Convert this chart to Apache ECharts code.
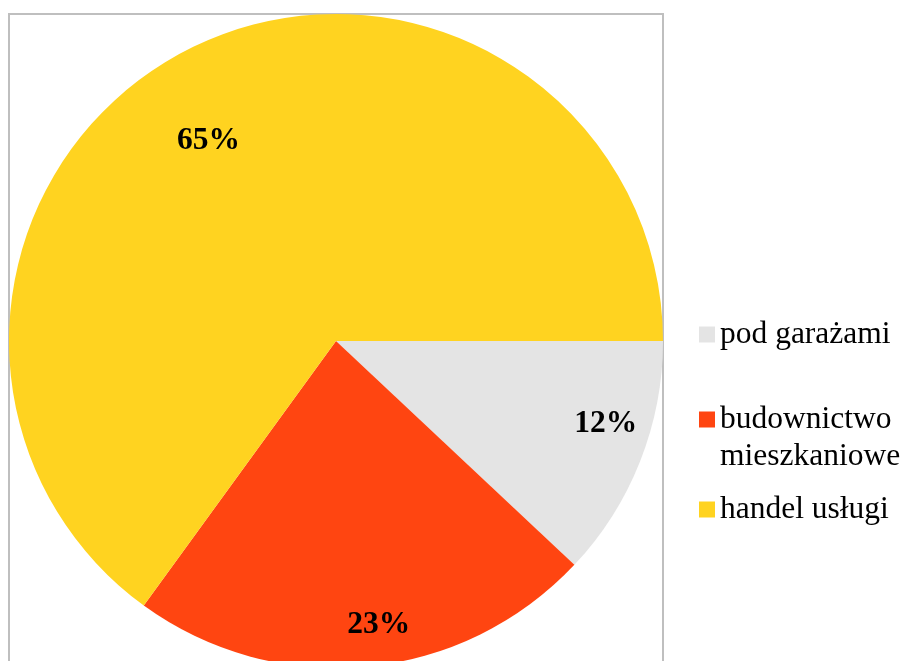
<!DOCTYPE html>
<html>
<head>
<meta charset="utf-8">
<script src="https://cdn.jsdelivr.net/npm/echarts@6/dist/echarts.min.js"></script>
<style>html,body{margin:0;padding:0;background:#fff;}#c{width:908px;height:661px;}</style>
</head>
<body>
<div id="c"></div>
<script>
var categories = ['pod garażami', 'budownictwo\nmieszkaniowe', 'handel usługi'];
var values = [12, 23, 65];
var colors = ['#E4E4E4', '#FF4511', '#FFD320'];
var labelShift = [[115, 22], [27, 118], [-52, -52]];
var legendTops = [316, 364, 491];

var chart = echarts.init(document.getElementById('c'));
var data = categories.map(function (c, i) {
  return { name: c, value: values[i], itemStyle: { color: colors[i] } };
});
var legends = categories.map(function (c, i) {
  return {
    data: [c],
    orient: 'vertical',
    left: 699,
    top: legendTops[i],
    padding: 0,
    icon: 'rect',
    itemWidth: 16,
    itemHeight: 16,
    itemGap: 6,
    selectedMode: false,
    formatter: i === 1 ? function (n) { return '\n' + n; } : '{name}',
    textStyle: { fontFamily: 'Liberation Serif', fontSize: 31.5, color: '#000', lineHeight: 37 }
  };
});
chart.setOption({
  animation: false,
  backgroundColor: '#fff',
  legend: legends,
  graphic: [{
    type: 'polyline',
    shape: { points: [[9, 661], [9, 14], [663, 14], [663, 661]] },
    style: { stroke: '#BFBFBF', lineWidth: 2, fill: null },
    z: 0
  }],
  series: [{
    type: 'pie',
    center: [336, 341],
    radius: 327,
    startAngle: 0,
    clockwise: true,
    z: 2,
    data: data,
    label: {
      show: true,
      position: 'inside',
      formatter: '{d}%',
      fontFamily: 'Liberation Serif',
      fontWeight: 'bold',
      fontSize: 31.5,
      color: '#000'
    },
    labelLine: { show: false },
    labelLayout: function (p) {
      var s = labelShift[p.dataIndex];
      return { dx: s[0], dy: s[1] };
    },
    emphasis: { disabled: true }
  }]
});
</script>
</body>
</html>
